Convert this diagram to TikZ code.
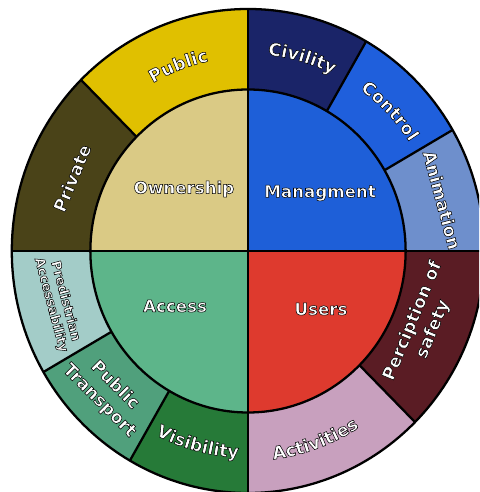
\documentclass[tikz,border=0pt]{standalone}
\usepackage{fontspec}
\usetikzlibrary{decorations.text}

\newfontfamily\wheelfont{DejaVu Sans Bold}
% testo bianco con bordo nero (fill + stroke)
\newcommand{\outlon}{\special{pdf:literal direct 2 Tr 0 G 0.3 w}}
\newcommand{\outl}[1]{\outlon#1\special{pdf:literal direct 0 Tr}}
% formato dei caratteri sugli archi
\newcommand{\arcfont}{\wheelfont\fontsize{10}{12}\selectfont\color{white}\outlon}

\definecolor{ownerfill}{RGB}{218,202,133}
\definecolor{publicfill}{RGB}{224,192,0}
\definecolor{privatefill}{RGB}{74,67,24}
\definecolor{managefill}{RGB}{30,95,216}
\definecolor{civilfill}{RGB}{26,36,104}
\definecolor{controlfill}{RGB}{31,95,220}
\definecolor{animfill}{RGB}{110,143,204}
\definecolor{accessfill}{RGB}{93,181,138}
\definecolor{pedfill}{RGB}{163,204,200}
\definecolor{transfill}{RGB}{80,160,124}
\definecolor{visfill}{RGB}{38,122,56}
\definecolor{usersfill}{RGB}{222,58,46}
\definecolor{safefill}{RGB}{90,28,36}
\definecolor{actfill}{RGB}{200,160,190}

\tikzset{
  wheel/.style={line width=1.3pt, black},
  hublabel/.style={text=white, font=\wheelfont\fontsize{9.5}{11}\selectfont},
  ringlabel/.style={text=white, font=\wheelfont\fontsize{10}{12.5}\selectfont, align=center},
  arctext/.style={decorate, decoration={text along path, text={|\arcfont|#1}, text align=center}},
}

\begin{document}
\begin{tikzpicture}[x=0.02cm, y=0.02cm]
    \useasboundingbox (-248,-241) rectangle (231,251);
    \clip (-248,-241) rectangle (231,251);

    \begin{scope}[xscale=0.976]
        % Settori interni
        \fill[ownerfill] (0,0) -- (90:161.5) arc[start angle=90, end angle=180, radius=161.5] -- cycle;
        \fill[managefill] (0,0) -- (0:161.5) arc[start angle=0, end angle=90, radius=161.5] -- cycle;
        \fill[accessfill] (0,0) -- (180:161.5) arc[start angle=180, end angle=270, radius=161.5] -- cycle;
        \fill[usersfill] (0,0) -- (270:161.5) arc[start angle=270, end angle=360, radius=161.5] -- cycle;

        % Anello esterno
        \fill[publicfill] (90:161.5) arc[start angle=90, end angle=135, radius=161.5] -- (135:242) arc[start angle=135, end angle=90, radius=242] -- cycle;
        \fill[privatefill] (135:161.5) arc[start angle=135, end angle=180, radius=161.5] -- (180:242) arc[start angle=180, end angle=135, radius=242] -- cycle;
        \fill[civilfill] (60:161.5) arc[start angle=60, end angle=90, radius=161.5] -- (90:242) arc[start angle=90, end angle=60, radius=242] -- cycle;
        \fill[controlfill] (30:161.5) arc[start angle=30, end angle=60, radius=161.5] -- (60:242) arc[start angle=60, end angle=30, radius=242] -- cycle;
        \fill[animfill] (0:161.5) arc[start angle=0, end angle=30, radius=161.5] -- (30:242) arc[start angle=30, end angle=0, radius=242] -- cycle;
        \fill[pedfill] (180:161.5) arc[start angle=180, end angle=210, radius=161.5] -- (210:242) arc[start angle=210, end angle=180, radius=242] -- cycle;
        \fill[transfill] (210:161.5) arc[start angle=210, end angle=240, radius=161.5] -- (240:242) arc[start angle=240, end angle=210, radius=242] -- cycle;
        \fill[visfill] (240:161.5) arc[start angle=240, end angle=270, radius=161.5] -- (270:242) arc[start angle=270, end angle=240, radius=242] -- cycle;
        \fill[actfill] (270:161.5) arc[start angle=270, end angle=315, radius=161.5] -- (315:242) arc[start angle=315, end angle=270, radius=242] -- cycle;
        \fill[safefill] (315:161.5) arc[start angle=315, end angle=360, radius=161.5] -- (360:242) arc[start angle=360, end angle=315, radius=242] -- cycle;

        % Contorni e divisioni
        \draw[wheel] (0,0) circle[radius=242];
        \draw[wheel] (0,0) circle[radius=161.5];
        \draw[wheel] (180:242) -- (0:242);
        \draw[wheel] (90:242) -- (270:242);
        \draw[wheel] (135:161.5) -- (135:242);
        \draw[wheel] (60:161.5) -- (60:242);
        \draw[wheel] (30:161.5) -- (30:242);
        \draw[wheel] (210:161.5) -- (210:242);
        \draw[wheel] (240:161.5) -- (240:242);
        \draw[wheel] (315:161.5) -- (315:242);

        % Etichette curve (linea di base)
        \path[arctext={Public}] (132:194) arc[start angle=132, end angle=90, radius=194];
        \path[arctext={Civility}] (88:197) arc[start angle=88, end angle=60, radius=197];
        \path[arctext={Control}] (59:198) arc[start angle=59, end angle=29, radius=198];
        \path[arctext={Visibility}] (240:207) arc[start angle=240, end angle=270, radius=207];
        \path[arctext={Activities}] (270:210) arc[start angle=270, end angle=310, radius=210];
    \end{scope}

    % Etichette centrali
    \node[hublabel] (ownership) at (-64,62) {\outl{Ownership}};
    \node[hublabel] (managment) at (72,58) {\outl{Managment}};
    \node[hublabel] (access) at (-73,-55) {\outl{Access}};
    \node[hublabel] (users) at (73,-58) {\outl{Users}};

    % Etichette dritte dell'anello
    \node[ringlabel, rotate=67.5] (private) at (-176,73) {\outl{Private}};
    \node[ringlabel, rotate=-75] (animation) at (194,51) {\outl{Animation}};
    \node[ringlabel, rotate=-75, font=\wheelfont\fontsize{7.5}{8.5}\selectfont] (pedestrian) at (-190,-52) {\outl{Predistrian}\\\outl{Accessability}};
    \node[ringlabel, rotate=-45] (transport) at (-141,-142) {\outl{Public}\\\outl{Transport}};
    \node[ringlabel, rotate=67.5] (safety) at (175,-74) {\outl{Perciption of}\\\outl{safety}};

\end{tikzpicture}
\end{document}
